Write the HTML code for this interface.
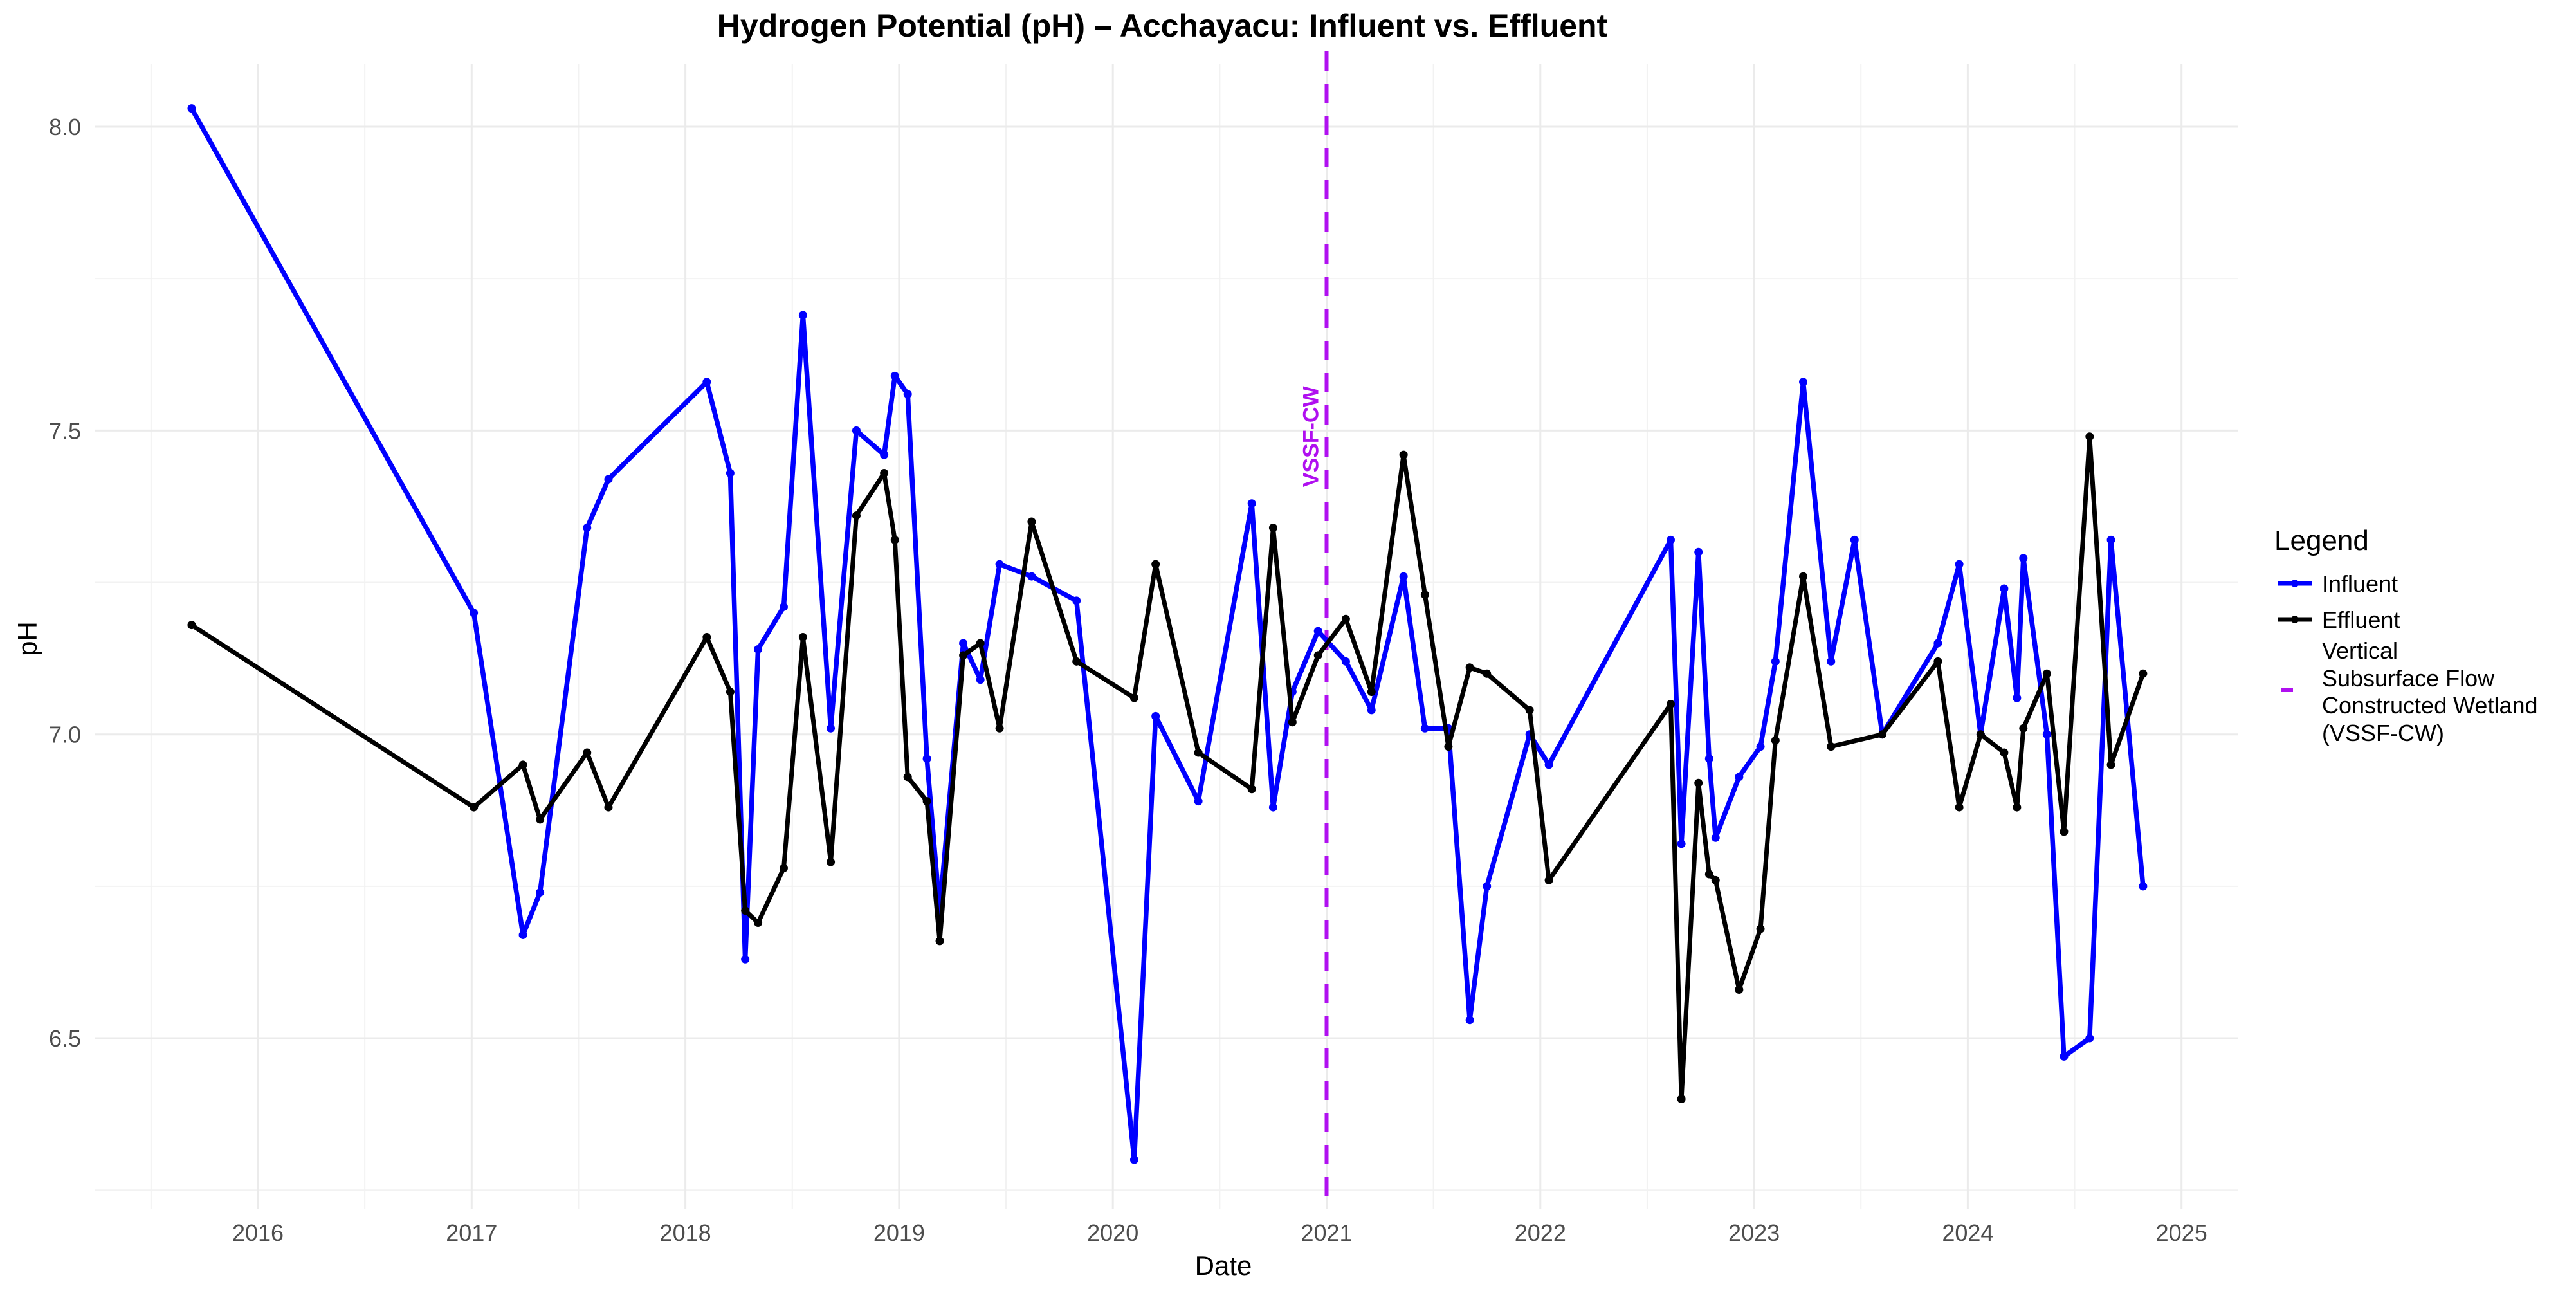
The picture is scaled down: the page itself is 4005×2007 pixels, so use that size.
<!DOCTYPE html>
<html><head><meta charset="utf-8">
<style>
html,body{margin:0;padding:0;background:#fff;}
svg{display:block;font-family:"Liberation Sans",Arial,sans-serif;}
</style></head>
<body>
<svg id="chart" width="4005" height="2007" viewBox="0 0 4005 2007" xmlns="http://www.w3.org/2000/svg">
<rect x="0" y="0" width="4005" height="2007" fill="#fff"/>
<g id="grid"></g>
<g id="axes"></g>
<g id="series"></g>
<text x="1807" y="57" text-anchor="middle" font-size="50" font-weight="bold" fill="#000">Hydrogen Potential (pH) – Acchayacu: Influent vs. Effluent</text>
<text x="1902" y="1982" text-anchor="middle" font-size="42" fill="#000">Date</text>
<text x="0" y="0" transform="translate(57,993) rotate(-90)" text-anchor="middle" font-size="42" fill="#000">pH</text>
<g>
<text x="3536" y="855" font-size="44" fill="#000">Legend</text>
<g>
<line x1="3542" y1="907" x2="3594" y2="907" stroke="#0000ff" stroke-width="7"/><circle cx="3568" cy="907" r="6" fill="#0000ff"/>
<text x="3610" y="920" font-size="36" fill="#000">Influent</text></g>
<g>
<line x1="3542" y1="963" x2="3594" y2="963" stroke="#000" stroke-width="7"/><circle cx="3568" cy="963" r="6" fill="#000"/>
<text x="3610" y="976" font-size="36" fill="#000">Effluent</text></g>
<g>
<line x1="3547" y1="1073" x2="3565" y2="1073" stroke="#B010F0" stroke-width="6"/>
<text x="3610" y="1024" font-size="36" fill="#000">Vertical</text>
<text x="3610" y="1067" font-size="36" fill="#000">Subsurface Flow</text>
<text x="3610" y="1109" font-size="36" fill="#000">Constructed Wetland</text>
<text x="3610" y="1152" font-size="36" fill="#000">(VSSF-CW)</text></g>
</g>
</svg>
<script>
const dates = [2015.69,2017.01,2017.24,2017.32,2017.54,2017.64,2018.10,2018.21,2018.28,2018.34,2018.46,2018.55,2018.68,2018.80,2018.93,2018.98,2019.04,2019.13,2019.19,2019.30,2019.38,2019.47,2019.62,2019.83,2020.10,2020.20,2020.40,2020.65,2020.75,2020.84,2020.96,2021.09,2021.21,2021.36,2021.46,2021.57,2021.67,2021.75,2021.95,2022.04,2022.61,2022.66,2022.74,2022.79,2022.82,2022.93,2023.03,2023.10,2023.23,2023.36,2023.47,2023.60,2023.86,2023.96,2024.06,2024.17,2024.23,2024.26,2024.37,2024.45,2024.57,2024.67,2024.82];
const influent = [8.03,7.20,6.67,6.74,7.34,7.42,7.58,7.43,6.63,7.14,7.21,7.69,7.01,7.50,7.46,7.59,7.56,6.96,6.71,7.15,7.09,7.28,7.26,7.22,6.30,7.03,6.89,7.38,6.88,7.07,7.17,7.12,7.04,7.26,7.01,7.01,6.53,6.75,7.00,6.95,7.32,6.82,7.30,6.96,6.83,6.93,6.98,7.12,7.58,7.12,7.32,7.00,7.15,7.28,7.00,7.24,7.06,7.29,7.00,6.47,6.50,7.32,6.75];
const effluentDates = dates.filter((d,i)=>i!==50);
const effluent = [7.18,6.88,6.95,6.86,6.97,6.88,7.16,7.07,6.71,6.69,6.78,7.16,6.79,7.36,7.43,7.32,6.93,6.89,6.66,7.13,7.15,7.01,7.35,7.12,7.06,7.28,6.97,6.91,7.34,7.02,7.13,7.19,7.07,7.46,7.23,6.98,7.11,7.10,7.04,6.76,7.05,6.40,6.92,6.77,6.76,6.58,6.68,6.99,7.26,6.98,7.00,7.12,6.88,7.00,6.97,6.88,7.01,7.10,6.84,7.49,6.95,7.10];
const xTicks = [2016,2017,2018,2019,2020,2021,2022,2023,2024,2025];
const yTicks = [6.5,7.0,7.5,8.0];
const yTickLabels = ["6.5","7.0","7.5","8.0"];
const interventionYear = 2021.0;

const NS="http://www.w3.org/2000/svg";
const X = y => 401 + (y-2016)*332.3;
const Y = v => 197 + (8.0-v)*944.7;
const PL=148, PR=3479, PT=100, PB=1880;
function mk(tag, attrs, parent){const e=document.createElementNS(NS,tag);for(const k in attrs)e.setAttribute(k,attrs[k]);parent.appendChild(e);return e;}
const grid=document.getElementById('grid'), axes=document.getElementById('axes'), series=document.getElementById('series');
for(let yr=2015.5; yr<=2025.5; yr+=1){const x=X(yr); if(x<PL||x>PR)continue;
  const l=mk('line',{x1:x,x2:x,y1:PT,y2:PB,stroke:'#f2f2f2','stroke-width':2},grid);
  
  }
for(let v=6.25; v<=8.3; v+=0.5){const y=Y(v); if(y<PT||y>PB)continue;
  const l=mk('line',{x1:PL,x2:PR,y1:y,y2:y,stroke:'#f2f2f2','stroke-width':2},grid);
  
  }
xTicks.forEach(t=>{const x=X(t);
  const l=mk('line',{x1:x,x2:x,y1:PT,y2:PB,stroke:'#ebebeb','stroke-width':3},grid);
  
  
  const tx=mk('text',{x:x,y:1929,'text-anchor':'middle','font-size':36,fill:'#4d4d4d'},axes);
  tx.textContent=String(t);
  
  });
yTicks.forEach((t,i)=>{const y=Y(t);
  const l=mk('line',{x1:PL,x2:PR,y1:y,y2:y,stroke:'#ebebeb','stroke-width':3},grid);
  
  
  const tx=mk('text',{x:126,y:y+13,'text-anchor':'end','font-size':36,fill:'#4d4d4d'},axes);
  tx.textContent=yTickLabels[i];
  
  });
const vx=X(interventionYear);
const vl=mk('line',{x1:vx,x2:vx,y1:PT-20,y2:PB,stroke:'#B010F0','stroke-width':6,'stroke-dasharray':'30,20'},series);


const vt=mk('text',{x:0,y:0,transform:`translate(${vx-13},${Y(7.49)}) rotate(-90)`,'text-anchor':'middle','font-size':34,'font-weight':'bold',fill:'#B010F0'},series);
vt.textContent='VSSF-CW';


function draw(ds, vals, color, w, name){
  const pts=ds.map((d,i)=>X(d).toFixed(1)+','+Y(vals[i]).toFixed(1)).join(' ');
  const pl=mk('polyline',{points:pts,fill:'none',stroke:color,'stroke-width':w,'stroke-linejoin':'round'},series);
  
  
  ds.forEach((d,i)=>{const c=mk('circle',{cx:X(d),cy:Y(vals[i]),r:6.5,fill:color},series);
    
    });
}
draw(dates, influent, '#0000ff', 7.5, 'influent');
draw(effluentDates, effluent, '#000000', 7, 'effluent');
</script>
</body></html>
